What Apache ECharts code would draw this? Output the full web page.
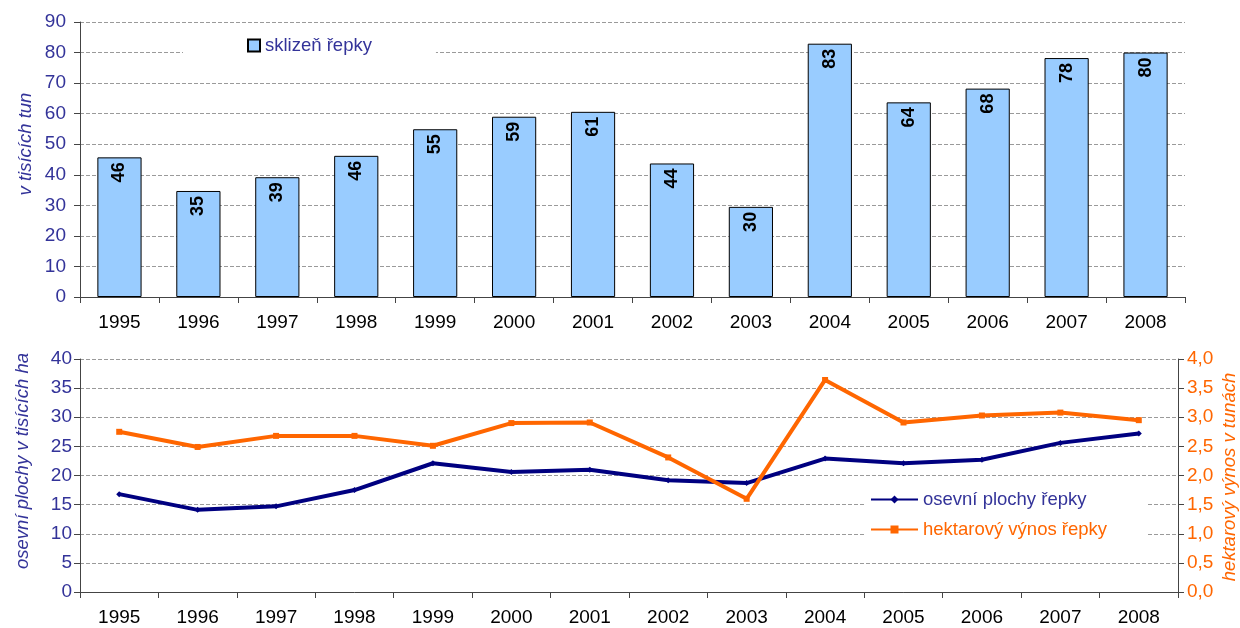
<!DOCTYPE html>
<html><head><meta charset="utf-8">
<script src="https://cdn.jsdelivr.net/npm/echarts@6/dist/echarts.min.js"></script>
<style>html,body{margin:0;padding:0;background:#fff}#c{width:1240px;height:628px}</style>
</head><body><div id="c"></div>
<script>
const years = ['1995','1996','1997','1998','1999','2000','2001','2002','2003','2004','2005','2006','2007','2008'];
const harvest = [45.7, 34.7, 39.2, 46.2, 54.9, 59.0, 60.6, 43.7, 29.5, 82.9, 63.7, 68.2, 78.2, 80.0];
const area = [16.8, 14.1, 14.7, 17.5, 22.1, 20.6, 21.0, 19.2, 18.7, 22.9, 22.1, 22.7, 25.6, 27.2];
const yieldHa = [2.75, 2.49, 2.68, 2.68, 2.51, 2.90, 2.91, 2.31, 1.60, 3.64, 2.91, 3.03, 3.08, 2.95];
const nameHarvest = 'sklizeň řepky';
const nameArea = 'osevní plochy řepky';
const nameYield = 'hektarový výnos řepky';
const titleTop = 'v tisících tun';
const titleLeft = 'osevní plochy v tisících ha';
const titleRight = 'hektarový výnos v tunách';

const FONT = '"Liberation Sans", Arial, sans-serif';
const NAVY = '#333399';
const ORANGE = '#FF6600';
const grid = {type:'dashed', color:'#9a9a9a', width:1};
const axLine = {show:true, lineStyle:{color:'#444', width:1}};
const axTick = {show:true, length:6, lineStyle:{color:'#444'}};
const chart = echarts.init(document.getElementById('c'), null, {renderer:'canvas'});
function vText(txt, x, y, color){
  return {type:'text', x:x, y:y, rotation:Math.PI/2,
    style:{text:txt, fill:color, font:'italic 18.5px ' + FONT, align:'center', verticalAlign:'middle'}};
}
chart.setOption({
  animation:false,
  textStyle:{fontFamily:FONT},
  grid:[
    {left:80, right:55, top:22, height:275},
    {left:80, right:62, top:359, height:233}
  ],
  graphic:[
    vText(titleTop, 26, 144, NAVY),
    vText(titleLeft, 23, 461, NAVY),
    vText(titleRight, 1230, 477, ORANGE)
  ],
  legend:[
    {data:[nameHarvest], left:183, top:32, orient:'horizontal', icon:'rect', itemWidth:12, itemHeight:12, itemGap:6,
     backgroundColor:'#fff', padding:[4,64,4,64],
     textStyle:{color:NAVY, fontSize:18.5, fontFamily:FONT}},
    {data:[{name:nameArea, textStyle:{color:NAVY}},{name:nameYield, textStyle:{color:ORANGE}}],
     left:866, top:486, orient:'vertical', itemWidth:47, itemHeight:10, itemGap:11,
     backgroundColor:'#fff', padding:[4,40,4,4],
     textStyle:{fontSize:18.5, fontFamily:FONT}}
  ],
  xAxis:[
    {type:'category', data:years, gridIndex:0, boundaryGap:true, axisLine:axLine, axisTick:axTick,
     axisLabel:{color:'#000', fontSize:19, margin:16, fontFamily:FONT}},
    {type:'category', data:years, gridIndex:1, boundaryGap:true, axisLine:axLine, axisTick:axTick,
     axisLabel:{color:'#000', fontSize:19, margin:16, fontFamily:FONT}}
  ],
  yAxis:[
    {type:'value', gridIndex:0, min:0, max:90, interval:10,
     axisLine:axLine, axisTick:axTick,
     axisLabel:{color:NAVY, fontSize:19, margin:14, fontFamily:FONT},
     splitLine:{show:true, lineStyle:grid}},
    {type:'value', gridIndex:1, min:0, max:40, interval:5,
     axisLine:axLine, axisTick:axTick,
     axisLabel:{color:NAVY, fontSize:19, margin:8, fontFamily:FONT},
     splitLine:{show:true, lineStyle:grid}},
    {type:'value', gridIndex:1, position:'right', min:0, max:4, interval:0.5,
     axisLine:axLine, axisTick:axTick,
     axisLabel:{color:ORANGE, fontSize:19, margin:9, fontFamily:FONT,
       formatter:v=>v.toFixed(1).replace('.',',')},
     splitLine:{show:false}}
  ],
  series:[
    {type:'bar', name:nameHarvest, data:harvest, xAxisIndex:0, yAxisIndex:0, barWidth:'56%',
     itemStyle:{color:'#99CCFF', borderColor:'#000', borderWidth:1},
     label:{show:true, position:'insideTop', rotate:90, align:'right', verticalAlign:'middle', distance:5,
       color:'#000', fontWeight:'bold', fontSize:18, fontFamily:FONT,
       formatter:p=>Math.round(p.value)}},
    {type:'line', name:nameArea, data:area, xAxisIndex:1, yAxisIndex:1,
     lineStyle:{color:'#000080', width:4}, itemStyle:{color:'#000080'},
     symbol:'diamond', symbolSize:6, showSymbol:true},
    {type:'line', name:nameYield, data:yieldHa, xAxisIndex:1, yAxisIndex:2,
     lineStyle:{color:ORANGE, width:4}, itemStyle:{color:ORANGE},
     symbol:'rect', symbolSize:6, showSymbol:true}
  ]
});
</script></body></html>
